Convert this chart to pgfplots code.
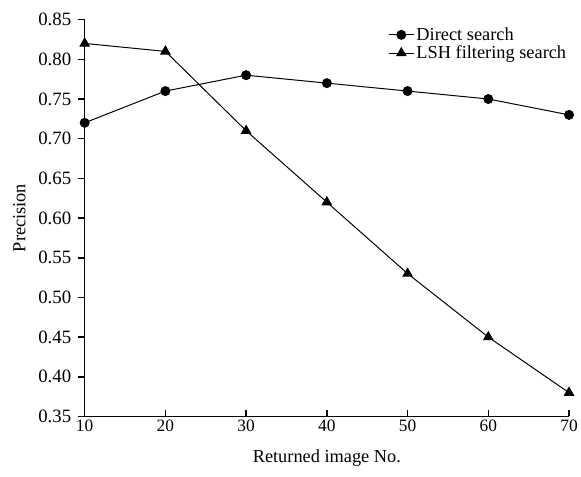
\documentclass[border=0pt]{standalone}
\usepackage{fontspec}
\setmainfont{Liberation Serif}
\usepackage{pgfplots}
\pgfplotsset{compat=1.18}
\begin{document}
\begin{tikzpicture}
\begin{axis}[
  scale only axis,
  width=487bp, height=399bp,
  xmin=10, xmax=70, ymin=0.35, ymax=0.85,
  axis lines=left,
  axis line style={line width=1.6pt, -, black},
  xtick={10,20,...,70},
  ytick={0.35,0.40,...,0.85},
  /pgf/number format/assume math mode=true,
  every tick/.style={black, line width=1.6pt},
  major tick length=7pt,
  xtick align=inside,
  ytick align=outside,
  xticklabel style={font=\fontsize{17.5}{20}\selectfont},
  yticklabel style={font=\fontsize{19}{21}\selectfont, xshift=-3pt, /pgf/number format/fixed, /pgf/number format/fixed zerofill, /pgf/number format/precision=2},
  label style={font=\fontsize{18.5}{21}\selectfont},
  xlabel={Returned image No.},
  ylabel={Precision},
  xlabel style={yshift=-11pt},
  ylabel style={yshift=6pt},
  legend style={draw=none, fill=none, at={(0.62,0.99)}, anchor=north west, font=\fontsize{18.5}{21}\selectfont, row sep=0pt},
  legend cell align=left,
  legend image code/.code={\draw[mark repeat=2, mark phase=2] plot coordinates {(0cm,0cm) (0.45cm,0cm) (0.9cm,0cm)};},
  clip=false,
]
\addplot[black, line width=1pt, mark=*, mark size=4.5pt] coordinates {
(10,0.72) (20,0.76) (30,0.78) (40,0.77) (50,0.76) (60,0.75) (70,0.73)};
\addlegendentry{Direct search}
\addplot[black, line width=1pt, mark=triangle*, mark size=5.3pt] coordinates {
(10,0.82) (20,0.81) (30,0.71) (40,0.62) (50,0.53) (60,0.45) (70,0.38)};
\addlegendentry{LSH filtering search}
\end{axis}
\path ([shift={(-10bp,10bp)}]current axis.outer north west) rectangle ([shift={(0bp,-7bp)}]current axis.outer south east);
\end{tikzpicture}
\end{document}
